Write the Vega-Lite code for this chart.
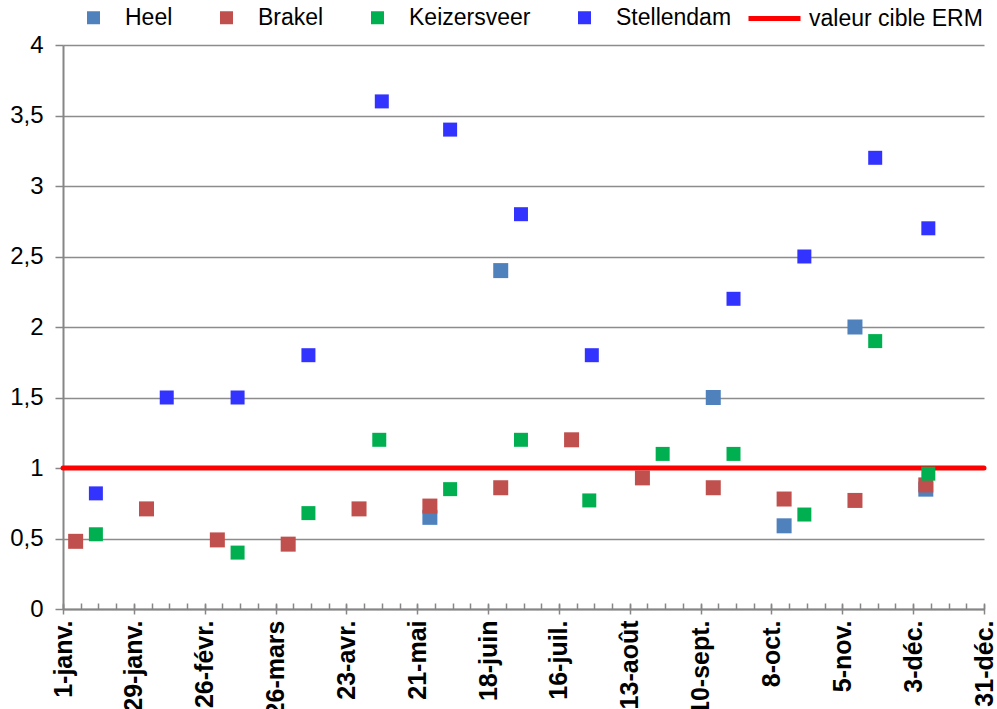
{
  "$schema": "https://vega.github.io/schema/vega-lite/v6.json",
  "width": 921,
  "height": 564,
  "autosize": "none",
  "padding": {"left": 63, "top": 45, "right": 13, "bottom": 100},
  "background": "white",
  "config": {
    "view": {"stroke": null},
    "font": "Liberation Sans",
    "locale": {
      "number": {"decimal": ",", "thousands": " ", "grouping": [3], "currency": ["", " €"]},
      "time": {
        "dateTime": "%A %e %B %Y à %X",
        "date": "%d/%m/%Y",
        "time": "%H:%M:%S",
        "periods": ["AM", "PM"],
        "days": ["dimanche", "lundi", "mardi", "mercredi", "jeudi", "vendredi", "samedi"],
        "shortDays": ["dim.", "lun.", "mar.", "mer.", "jeu.", "ven.", "sam."],
        "months": ["janvier", "février", "mars", "avril", "mai", "juin", "juillet", "août", "septembre", "octobre", "novembre", "décembre"],
        "shortMonths": ["janv.", "févr.", "mars", "avr.", "mai", "juin", "juil.", "août", "sept.", "oct.", "nov.", "déc."]
      }
    },
    "axis": {
      "labelFont": "Liberation Sans",
      "labelColor": "black",
      "domainColor": "#868686",
      "tickColor": "#868686",
      "gridColor": "#8c8c8c",
      "title": null
    },
    "legend": {
      "labelFont": "Liberation Sans",
      "labelFontSize": 23,
      "labelColor": "black",
      "labelLimit": 400
    }
  },
  "layer": [
    {
      "data": {
        "values": [
          {"station": "valeur cible ERM", "cible": 1, "debut": "2017-01-01", "fin": "2017-12-31"}
        ]
      },
      "mark": {"type": "rule", "strokeWidth": 5, "strokeCap": "round"},
      "encoding": {
        "x": {
          "field": "debut",
          "type": "temporal",
          "axis": {
            "orient": "bottom",
            "tickCount": "week",
            "labels": false,
            "grid": false,
            "domain": true,
            "domainWidth": 2,
            "ticks": true,
            "tickSize": -6,
            "tickWidth": 1.5
          }
        },
        "x2": {"field": "fin"},
        "y": {"field": "cible", "type": "quantitative"},
        "stroke": {
          "field": "station",
          "type": "nominal",
          "scale": {"domain": ["valeur cible ERM"], "range": ["#FF0000"]},
          "legend": {
            "orient": "none",
            "legendX": 683,
            "legendY": -55,
            "title": null,
            "symbolType": "stroke",
            "symbolSize": 2704,
            "symbolStrokeWidth": 5,
            "symbolOpacity": 1,
            "labelOffset": 6
          }
        }
      }
    },
    {
      "data": {
        "values": [
          {"station": "Heel", "date": "2017-05-26", "valeur": 0.65},
          {"station": "Heel", "date": "2017-06-23", "valeur": 2.4},
          {"station": "Heel", "date": "2017-09-15", "valeur": 1.5},
          {"station": "Heel", "date": "2017-10-13", "valeur": 0.59},
          {"station": "Heel", "date": "2017-11-10", "valeur": 2.0},
          {"station": "Heel", "date": "2017-12-08", "valeur": 0.85},
          {"station": "Brakel", "date": "2017-01-06", "valeur": 0.48},
          {"station": "Brakel", "date": "2017-02-03", "valeur": 0.71},
          {"station": "Brakel", "date": "2017-03-03", "valeur": 0.49},
          {"station": "Brakel", "date": "2017-03-31", "valeur": 0.46},
          {"station": "Brakel", "date": "2017-04-28", "valeur": 0.71},
          {"station": "Brakel", "date": "2017-05-26", "valeur": 0.73},
          {"station": "Brakel", "date": "2017-06-23", "valeur": 0.86},
          {"station": "Brakel", "date": "2017-07-21", "valeur": 1.2},
          {"station": "Brakel", "date": "2017-08-18", "valeur": 0.93},
          {"station": "Brakel", "date": "2017-09-15", "valeur": 0.86},
          {"station": "Brakel", "date": "2017-10-13", "valeur": 0.78},
          {"station": "Brakel", "date": "2017-11-10", "valeur": 0.77},
          {"station": "Brakel", "date": "2017-12-08", "valeur": 0.88},
          {"station": "Keizersveer", "date": "2017-01-14", "valeur": 0.53},
          {"station": "Keizersveer", "date": "2017-03-11", "valeur": 0.4},
          {"station": "Keizersveer", "date": "2017-04-08", "valeur": 0.68},
          {"station": "Keizersveer", "date": "2017-05-06", "valeur": 1.2},
          {"station": "Keizersveer", "date": "2017-06-03", "valeur": 0.85},
          {"station": "Keizersveer", "date": "2017-07-01", "valeur": 1.2},
          {"station": "Keizersveer", "date": "2017-07-28", "valeur": 0.77},
          {"station": "Keizersveer", "date": "2017-08-26", "valeur": 1.1},
          {"station": "Keizersveer", "date": "2017-09-23", "valeur": 1.1},
          {"station": "Keizersveer", "date": "2017-10-21", "valeur": 0.67},
          {"station": "Keizersveer", "date": "2017-11-18", "valeur": 1.9},
          {"station": "Keizersveer", "date": "2017-12-09", "valeur": 0.96},
          {"station": "Stellendam", "date": "2017-01-14", "valeur": 0.82},
          {"station": "Stellendam", "date": "2017-02-11", "valeur": 1.5},
          {"station": "Stellendam", "date": "2017-03-11", "valeur": 1.5},
          {"station": "Stellendam", "date": "2017-04-08", "valeur": 1.8},
          {"station": "Stellendam", "date": "2017-05-07", "valeur": 3.6},
          {"station": "Stellendam", "date": "2017-06-03", "valeur": 3.4},
          {"station": "Stellendam", "date": "2017-07-01", "valeur": 2.8},
          {"station": "Stellendam", "date": "2017-07-29", "valeur": 1.8},
          {"station": "Stellendam", "date": "2017-09-23", "valeur": 2.2},
          {"station": "Stellendam", "date": "2017-10-21", "valeur": 2.5},
          {"station": "Stellendam", "date": "2017-11-18", "valeur": 3.2},
          {"station": "Stellendam", "date": "2017-12-09", "valeur": 2.7}
        ]
      },
      "mark": {"type": "square", "filled": true, "opacity": 1},
      "encoding": {
        "x": {
          "field": "date",
          "type": "temporal",
          "scale": {
            "type": "utc",
            "nice": false,
            "domain": [
              {"year": 2017, "month": 1, "date": 1, "utc": true},
              {"year": 2017, "month": 12, "date": 31, "utc": true}
            ]
          },
          "axis": {
            "orient": "bottom",
            "offset": -5,
            "domain": false,
            "grid": false,
            "tickSize": 10,
            "tickWidth": 1.5,
            "values": [
              {"year": 2017, "month": 1, "date": 1, "utc": true},
              {"year": 2017, "month": 1, "date": 29, "utc": true},
              {"year": 2017, "month": 2, "date": 26, "utc": true},
              {"year": 2017, "month": 3, "date": 26, "utc": true},
              {"year": 2017, "month": 4, "date": 23, "utc": true},
              {"year": 2017, "month": 5, "date": 21, "utc": true},
              {"year": 2017, "month": 6, "date": 18, "utc": true},
              {"year": 2017, "month": 7, "date": 16, "utc": true},
              {"year": 2017, "month": 8, "date": 13, "utc": true},
              {"year": 2017, "month": 9, "date": 10, "utc": true},
              {"year": 2017, "month": 10, "date": 8, "utc": true},
              {"year": 2017, "month": 11, "date": 5, "utc": true},
              {"year": 2017, "month": 12, "date": 3, "utc": true},
              {"year": 2017, "month": 12, "date": 31, "utc": true}
            ],
            "format": "%-d-%b",
            "labelAngle": 270,
            "labelAlign": "right",
            "labelBaseline": "middle",
            "labelFontSize": 25,
            "labelFontWeight": "bold",
            "labelPadding": 6,
            "labelFlush": false,
            "labelOverlap": false,
            "labelBound": false
          }
        },
        "y": {
          "field": "valeur",
          "type": "quantitative",
          "scale": {"domain": [0, 4], "nice": false, "zero": true},
          "axis": {
            "values": [0, 0.5, 1, 1.5, 2, 2.5, 3, 3.5, 4],
            "format": "~g",
            "grid": true,
            "gridWidth": 1.5,
            "domain": true,
            "domainWidth": 2,
            "tickSize": 8,
            "tickWidth": 1.5,
            "labelFontSize": 24,
            "labelPadding": 12
          }
        },
        "color": {
          "field": "station",
          "type": "nominal",
          "scale": {
            "domain": ["Heel", "Brakel", "Keizersveer", "Stellendam"],
            "range": ["#4F81BD", "#C0504D", "#00B050", "#3333FF"]
          },
          "legend": {
            "orient": "none",
            "legendX": 19,
            "legendY": -39,
            "direction": "horizontal",
            "title": null,
            "symbolType": "square",
            "symbolSize": 169,
            "symbolOpacity": 1,
            "symbolStrokeWidth": 0,
            "labelOffset": 20,
            "columnPadding": 42
          }
        },
        "size": {
          "condition": {"test": "datum.station === 'Heel' || datum.station === 'Brakel'", "value": 225},
          "value": 196
        }
      }
    }
  ],
  "resolve": {"axis": {"x": "independent"}}
}
